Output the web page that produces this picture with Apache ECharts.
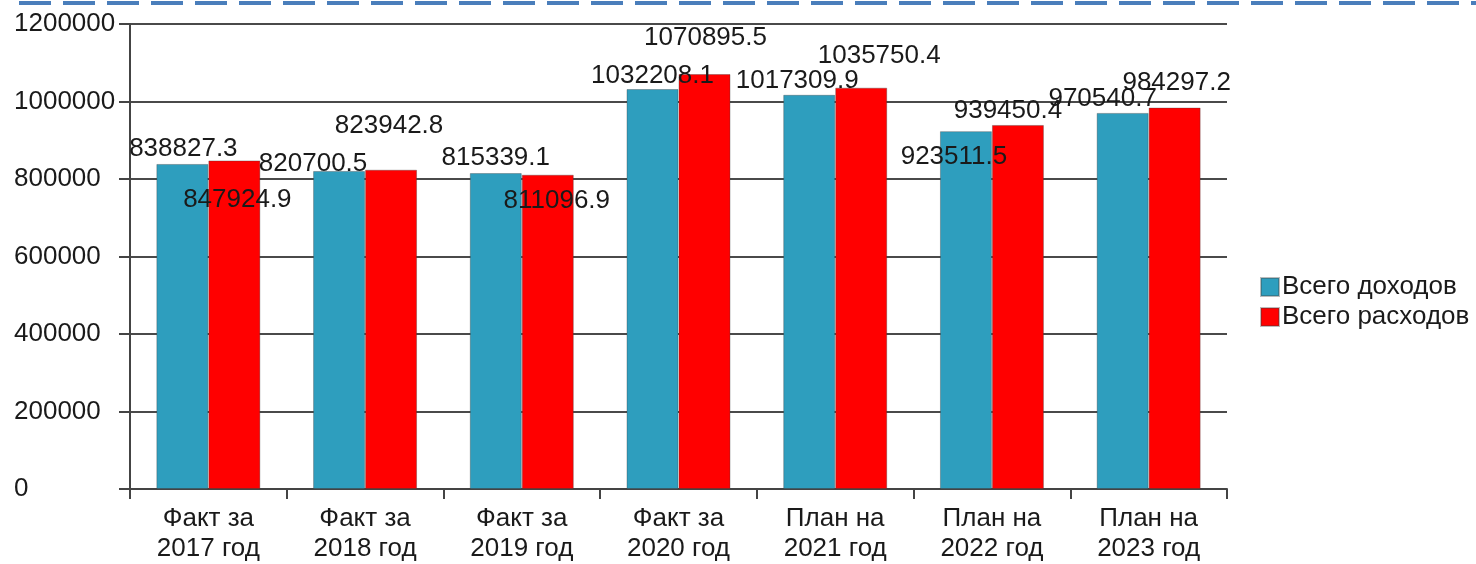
<!DOCTYPE html>
<html>
<head>
<meta charset="utf-8">
<script src="https://cdn.jsdelivr.net/npm/echarts@6/dist/echarts.min.js"></script>
<style>
html,body{margin:0;padding:0;background:#fff;}
#c{width:1476px;height:564px;}
</style>
</head>
<body>
<div id="c"></div>
<script>
const categories = ['Факт за\n2017 год','Факт за\n2018 год','Факт за\n2019 год','Факт за\n2020 год','План на\n2021 год','План на\n2022 год','План на\n2023 год'];
const seriesNames = ['Всего доходов','Всего расходов'];
const income = [838827.3, 820700.5, 815339.1, 1032208.1, 1017309.9, 923511.5, 970540.7];
const expenses = [847924.9, 823942.8, 811096.9, 1070895.5, 1035750.4, 939450.4, 984297.2];
const yTicks = [0, 200000, 400000, 600000, 800000, 1000000, 1200000];

// label placement (pixel offsets from bar centre-top), as in the original slide
const incomeLabelShift = [[1,-16],[-26,-8],[0,-16],[0,-14],[-12,-15],[-12,25],[-20,-15]];
const expenseLabelShift = [[3,38],[-2,-45],[9,25],[1,-37],[18,-33],[-10,-15],[2,-26]];

const BAR_W = 52;
const FONT = 'Liberation Sans, Arial, sans-serif';

function mkData(values, shifts){
  return values.map((v,i)=>({
    value: v,
    label: {position: [BAR_W/2 + shifts[i][0], shifts[i][1] + 1]}
  }));
}

const chart = echarts.init(document.getElementById('c'), null, {renderer:'canvas'});
const labelStyle = {
  show: true, align: 'center', verticalAlign: 'middle',
  color: '#1a1a1a', fontSize: 26, fontFamily: FONT,
  formatter: p => String(p.value)
};
chart.setOption({
  backgroundColor: '#fff',
  animation: false,
  graphic: [{
    type: 'line', silent: true,
    shape: {x1: 19, y1: 3, x2: 1476, y2: 3},
    style: {stroke: '#4a7ebb', lineWidth: 4, lineDash: [32, 12]}
  }],
  legend: {
    orient: 'vertical', left: 1255, top: 267,
    itemWidth: 18, itemHeight: 18, itemGap: 0,
    icon: 'rect',
    data: seriesNames,
    textStyle: {fontSize: 26, fontFamily: FONT, color: '#1a1a1a', lineHeight: 30, padding: [0,0,0,-2]}
  },
  grid: {left: 130, right: 249, top: 24, bottom: 74, containLabel: false},
  xAxis: {
    type: 'category', data: categories,
    axisLine: {show: true, lineStyle: {color: '#444', width: 2}},
    axisTick: {show: true, length: 10, lineStyle: {color: '#444', width: 2}},
    axisLabel: {fontSize: 26, fontFamily: FONT, color: '#1a1a1a', lineHeight: 30, margin: 15, interval: 0}
  },
  yAxis: {
    type: 'value', min: yTicks[0], max: yTicks[yTicks.length-1], interval: yTicks[1]-yTicks[0],
    axisLine: {show: true, lineStyle: {color: '#444', width: 2}},
    axisTick: {show: true, length: 11, lineStyle: {color: '#444', width: 2}},
    splitLine: {show: true, lineStyle: {color: '#4a4a4a', width: 2}},
    axisLabel: {fontSize: 26, fontFamily: FONT, color: '#1a1a1a', align: 'left', margin: 116,
      formatter: v => String(v)}
  },
  series: [
    {
      name: seriesNames[0], type: 'bar', barWidth: BAR_W, barGap: '0%',
      itemStyle: {color: '#2e9ebe', borderColor: 'rgba(60,60,60,0.35)', borderWidth: 1},
      label: labelStyle,
      data: mkData(income, incomeLabelShift)
    },
    {
      name: seriesNames[1], type: 'bar', barWidth: BAR_W, barGap: '0%',
      itemStyle: {color: '#ff0000', borderColor: 'rgba(60,60,60,0.35)', borderWidth: 1},
      label: labelStyle,
      data: mkData(expenses, expenseLabelShift)
    }
  ]
});
</script>
</body>
</html>
